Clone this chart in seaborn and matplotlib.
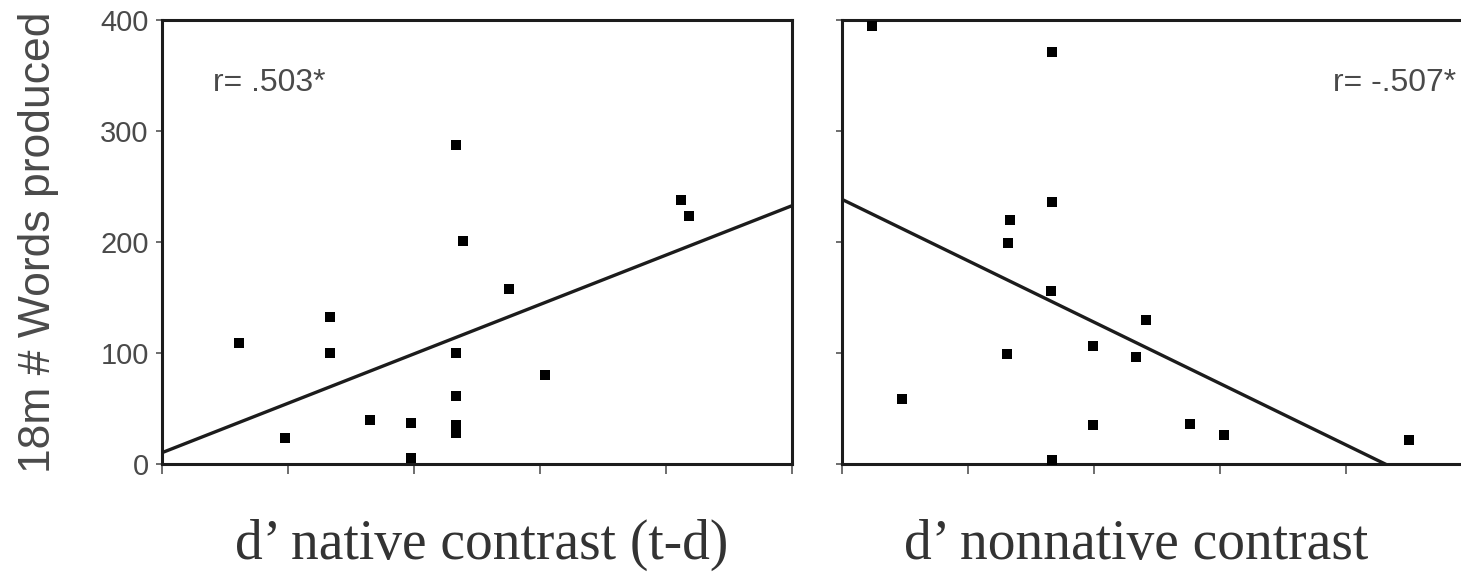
import numpy as np
import pandas as pd
import matplotlib
matplotlib.use("Agg")
import matplotlib.pyplot as plt
import seaborn as sns

# Infant discrimination (d') vs. vocabulary at 18 months
native_d = [0.61, 0.98, 1.33, 1.33, 1.65, 1.98, 1.98, 2.33, 2.39, 2.33,
            2.33, 2.33, 2.33, 2.75, 3.04, 4.12, 4.18]
native_words = [109, 23, 132, 100, 40, 37, 5, 287, 201, 100,
                61, 35, 28, 158, 80, 238, 223]

nonnative_d = [0.24, 0.48, 1.31, 1.32, 1.33, 1.66, 1.67, 1.67, 1.67,
               1.99, 1.99, 2.33, 2.41, 2.76, 3.03, 4.50]
nonnative_words = [395, 59, 99, 199, 220, 156, 236, 371, 4,
                   35, 106, 96, 130, 36, 26, 22]

# Regression lines as published: intercept, slope
native_fit = [10.2, 44.5]
nonnative_fit = [238.4, -55.3]

native_r = "r= .503*"
nonnative_r = "r= -.507*"

x_label_native = "d\u2019 native contrast (t-d)"
x_label_nonnative = "d\u2019 nonnative contrast"
y_label = "18m # Words produced"

x_ticks = [0, 1, 2, 3, 4, 5]
y_ticks = [0, 100, 200, 300, 400]

sns.set_theme(style="white")
plt.rcParams["font.family"] = ["Liberation Sans", "DejaVu Sans"]

INK = "#1c1c1c"
TEXT = "#4a4a4a"

fig = plt.figure(figsize=(14.61, 5.73), dpi=100)
ax1 = fig.add_axes([162 / 1461, 109 / 573, 630 / 1461, 444 / 573])
ax2 = fig.add_axes([842 / 1461, 109 / 573, 630 / 1461, 444 / 573])

panels = [
    (ax1, native_d, native_words, native_fit, x_label_native, True),
    (ax2, nonnative_d, nonnative_words, nonnative_fit, x_label_nonnative, False),
]

for ax, xs, ys, fit, xlab, show_y in panels:
    ax.set_xlim(0, 5)
    ax.set_ylim(0, 400)
    df = pd.DataFrame({"d": xs, "words": ys})
    sns.scatterplot(data=df, x="d", y="words", ax=ax, marker="s", s=48,
                    color="black", linewidth=0, zorder=3)
    line_x = np.array(ax.get_xlim())
    line_df = pd.DataFrame({"d": line_x, "words": fit[0] + fit[1] * line_x})
    sns.lineplot(data=line_df, x="d", y="words", ax=ax, color=INK,
                 linewidth=2.4, zorder=2)
    ax.set_xlim(0, 5)
    ax.set_ylim(0, 400)

    for side in ["left", "right", "top", "bottom"]:
        ax.spines[side].set_visible(True)
        ax.spines[side].set_color(INK)
        ax.spines[side].set_linewidth(2.2)

    ax.set_xticks(x_ticks)
    ax.set_xticklabels([])
    ax.set_yticks(y_ticks)
    if show_y:
        ax.set_yticklabels([str(v) for v in y_ticks])
    else:
        ax.set_yticklabels([])
    ax.tick_params(axis="x", direction="out", length=7, width=1.2,
                   colors="#555555", bottom=True)
    ax.tick_params(axis="y", direction="out", length=4.5, width=1.2,
                   colors="#555555", left=True, labelsize=21, pad=5,
                   labelcolor=TEXT)

    ax.set_xlabel(xlab, family=["Liberation Serif", "DejaVu Serif"],
                  fontsize=40, color="#333333")
    ax.xaxis.label.set_va("baseline")
    ax.set_ylabel("")

ax1.xaxis.set_label_coords(0.507, -0.214)
ax2.xaxis.set_label_coords(0.4675, -0.214)

ax1.text(0.405, 343, native_r, fontsize=23, color=TEXT, ha="left", va="center")
ax2.text(3.90, 343, nonnative_r, fontsize=23, color=TEXT, ha="left", va="center")

ax1.set_ylabel(y_label, fontsize=32, color=TEXT)
ax1.yaxis.set_label_coords(-0.164, 0.5)

fig.savefig("out.png", dpi=100)
